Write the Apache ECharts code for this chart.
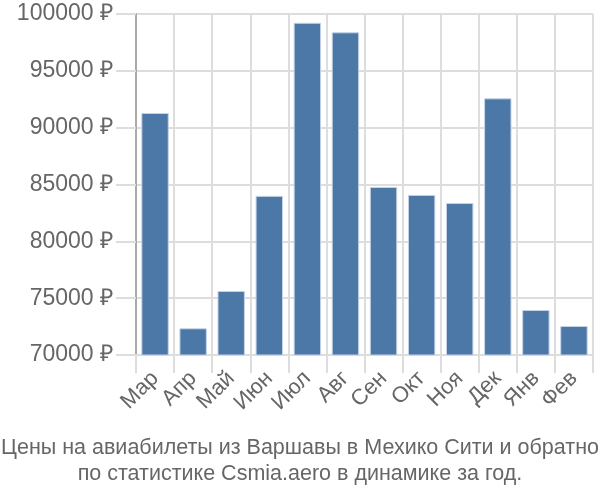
<!DOCTYPE html>
<html><head><meta charset="utf-8">
<script src="https://cdn.jsdelivr.net/npm/echarts@6/dist/echarts.min.js"></script>
<style>html,body{margin:0;padding:0;background:#fff}#c{width:600px;height:500px}</style>
</head><body><div id="c"></div>
<script>
const categories = ['Мар','Апр','Май','Июн','Июл','Авг','Сен','Окт','Ноя','Дек','Янв','Фев'];
const prices = [91290, 72350, 75630, 84000, 99230, 98390, 84780, 84080, 83370, 92580, 73960, 72550];
const titleLines = ['Цены на авиабилеты из Варшавы в Мехико Сити и обратно', 'по статистике Csmia.aero в динамике за год.'];
const chart = echarts.init(document.getElementById('c'));
chart.setOption({
  animation: false,
  title: {
    text: titleLines.join('\n'),
    left: 'center', bottom: 8,
    textStyle: {fontFamily: 'Liberation Sans', fontSize: 21.5, fontWeight: 'normal', color: '#666', lineHeight: 26}
  },
  grid: {left: 136, right: 7, top: 14, bottom: 145},
  xAxis: {
    type: 'category', data: categories,
    axisLine: {show: true, lineStyle: {color: '#ddd', width: 2}},
    axisTick: {show: true, length: 18, interval: 0, lineStyle: {color: '#ddd', width: 2}},
    splitLine: {show: true, interval: 0, lineStyle: {color: '#ddd', width: 2}},
    axisLabel: {rotate: 45, interval: 0, hideOverlap: false, fontFamily: 'Liberation Sans', fontSize: 22, color: '#666', margin: 20}
  },
  yAxis: {
    type: 'value', min: 70000, max: 100000, interval: 5000,
    axisLine: {show: true, lineStyle: {color: '#aaa', width: 2}},
    axisTick: {show: true, length: 20, lineStyle: {color: '#ddd', width: 2}},
    splitLine: {show: true, lineStyle: {color: '#ddd', width: 2}},
    axisLabel: {formatter: v => v + ' ₽', fontFamily: 'Liberation Sans', fontSize: 23, color: '#666', margin: 23}
  },
  series: [{
    type: 'bar', data: prices, barWidth: '72%',
    itemStyle: {color: '#4c78a8', borderColor: '#c5d3e6', borderWidth: 1}
  }]
});
</script></body></html>
